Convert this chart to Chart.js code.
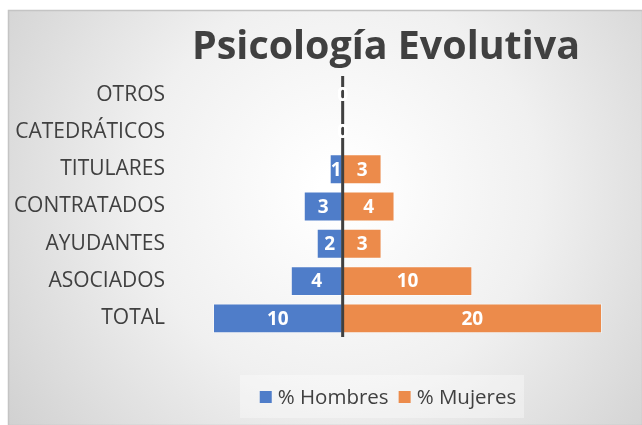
<!DOCTYPE html>
<html>
<head>
<meta charset="utf-8">
<script src="https://cdn.jsdelivr.net/npm/chart.js@4/dist/chart.umd.min.js"></script>
<style>
html,body{margin:0;padding:0;background:#fff;}
#c{display:block;}
</style>
</head>
<body>
<canvas id="c" width="642" height="425"></canvas>
<script>
const categories = ["OTROS", "CATEDRÁTICOS", "TITULARES", "CONTRATADOS", "AYUDANTES", "ASOCIADOS", "TOTAL"];
const hombres = [0, 0, 1, 3, 2, 4, 10];
const mujeres = [0, 0, 3, 4, 3, 10, 20];
const seriesNames = ["% Hombres", "% Mujeres"];
const titleText = "Psicología Evolutiva";

const BLUE = "#4F7DC9";
const ORANGE = "#EC8B4B";
const TXT = "#404040";
const FONT = "'Open Sans', 'Noto Sans', sans-serif";

const bgPlugin = {
  id: "bg",
  beforeDraw(chart) {
    const ctx = chart.ctx;
    ctx.save();
    ctx.fillStyle = "#ffffff";
    ctx.fillRect(0, 0, chart.width, chart.height);
    const x0 = 8, y0 = 10, x1 = 642, y1 = 425;
    const g = ctx.createRadialGradient(340, 190, 20, 340, 190, 420);
    g.addColorStop(0, "#ffffff");
    g.addColorStop(0.45, "#f0f0f0");
    g.addColorStop(1, "#cfcfcf");
    ctx.fillStyle = g;
    ctx.fillRect(x0, y0, x1 - x0, y1 - y0);
    ctx.strokeStyle = "#c4c4c4";
    ctx.lineWidth = 1.5;
    ctx.strokeRect(x0 + 0.5, y0 + 0.5, x1 - x0, y1 - y0);
    // title
    ctx.fillStyle = TXT;
    ctx.textAlign = "center";
    ctx.textBaseline = "middle";
    let size = 36;
    ctx.font = "bold " + size + "px " + FONT;
    const w = ctx.measureText(titleText).width;
    size = size * 388 / w;
    ctx.font = "bold " + size + "px " + FONT;
    ctx.fillText(titleText, 386, 48);
    // legend
    ctx.fillStyle = "rgba(255,255,255,0.35)";
    ctx.fillRect(240, 375, 284, 43);
    const items = chart.data.datasets;
    ctx.font = "20.5px " + FONT;
    ctx.textAlign = "left";
    const gap = 10, box = 12, tgap = 6;
    let total = 0;
    items.forEach((d, i) => {
      total += box + tgap + ctx.measureText(d.label).width + (i < items.length - 1 ? gap : 0);
    });
    let x = 388 - total / 2;
    const ly = 397;
    items.forEach((d, i) => {
      ctx.fillStyle = d.backgroundColor;
      ctx.fillRect(x, ly - box / 2, box, box);
      x += box + tgap;
      ctx.fillStyle = TXT;
      ctx.fillText(d.label, x, ly + 1);
      x += ctx.measureText(d.label).width + gap;
    });
    ctx.restore();
  }
};

const axisAndLabels = {
  id: "axisLabels",
  afterDatasetsDraw(chart) {
    const ctx = chart.ctx;
    const xs = chart.scales.x;
    const ca = chart.chartArea;
    const x0 = xs.getPixelForValue(0);
    ctx.save();
    ctx.strokeStyle = "#404040";
    ctx.lineWidth = 3;
    ctx.beginPath();
    ctx.moveTo(x0, ca.top);
    ctx.lineTo(x0, ca.bottom);
    ctx.stroke();
    ctx.fillStyle = "#ffffff";
    ctx.textAlign = "center";
    ctx.textBaseline = "middle";
    ctx.font = "bold 19px " + FONT;
    chart.data.datasets.forEach((ds, di) => {
      const meta = chart.getDatasetMeta(di);
      const src = di === 0 ? hombres : mujeres;
      meta.data.forEach((el, i) => {
        const cx = (el.x + el.base) / 2;
        ctx.fillText(String(src[i]), cx, el.y + 1);
      });
    });
    ctx.restore();
  }
};

new Chart(document.getElementById("c"), {
  type: "bar",
  data: {
    labels: categories,
    datasets: [
      { label: seriesNames[0], data: hombres.map(v => -v), backgroundColor: BLUE,
        borderColor: "rgba(255,255,255,0.45)", borderWidth: 1, borderSkipped: false },
      { label: seriesNames[1], data: mujeres, backgroundColor: ORANGE,
        borderColor: "rgba(255,255,255,0.45)", borderWidth: 1, borderSkipped: false }
    ]
  },
  options: {
    indexAxis: "y",
    responsive: false,
    animation: false,
    devicePixelRatio: 1,
    layout: { padding: { left: 0, right: 40, top: 76, bottom: 88 } },
    barPercentage: 0.8,
    categoryPercentage: 1.0,
    plugins: {
      legend: { display: false },
      title: { display: false },
      tooltip: { enabled: false }
    },
    scales: {
      x: {
        stacked: true,
        min: -10,
        max: 20,
        display: false
      },
      y: {
        stacked: true,
        grid: { display: false, drawTicks: false },
        border: { display: false },
        ticks: { color: TXT, font: { family: FONT, size: 21 }, padding: 48 },
        afterFit(scale) { scale.width = 213; }
      }
    }
  },
  plugins: [bgPlugin, axisAndLabels]
});
</script>
</body>
</html>
